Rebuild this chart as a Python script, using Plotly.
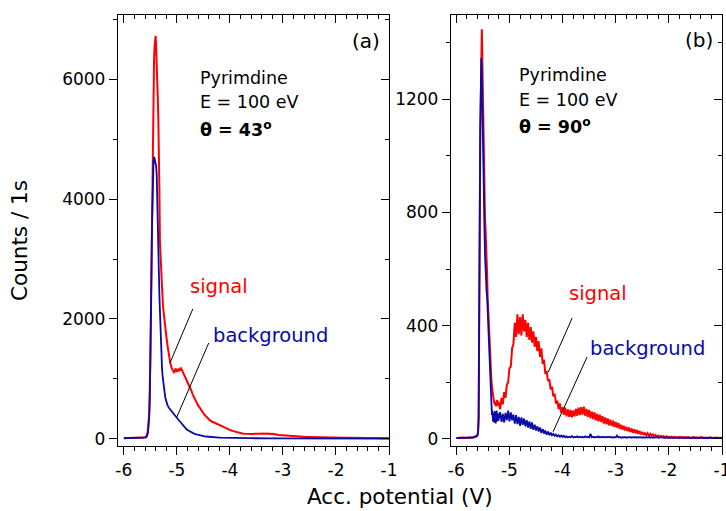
import numpy as np
import plotly.graph_objects as go

# ---------------- sampling of the accelerating potential (V) ----------------
x_base = [-6.00, -5.96, -5.92, -5.88, -5.84, -5.80, -5.76, -5.72, -5.68, -5.64]
x_peak = np.round(np.arange(-5.62, -5.205, 0.01), 2).tolist()      # -5.62 .. -5.21
x_tail = np.round(np.arange(-5.20, -0.9999, 0.025), 3).tolist()    # -5.20 .. -1.00
x_all = x_base + x_peak + x_tail

# ---------------- panel (a): theta = 43 deg ----------------
a_sig_base = [18, 20, 19, 21, 20, 22, 21, 20, 22, 21]
a_sig_peak = [20, 22, 25, 30, 40, 55, 80, 120, 200, 320,
              480, 800, 1300, 2000, 2800, 3600, 4700, 5500, 5900, 6350,
              6550, 6700, 6720, 6500, 6300, 5950, 5700, 5350, 5000, 4200,
              3300, 3050, 2900, 2700, 2500, 2350, 2200, 2100, 2000, 1900,
              1830, 1770]
a_sig_tail = [1720, 1550, 1400, 1270, 1190, 1140, 1100, 1175, 1120, 1170,
              1130, 1190, 1140, 1120, 1070, 1000, 960, 910, 860, 800,
              740, 690, 640, 600, 560, 530, 490, 460, 430, 400,
              375, 350, 330, 310, 295, 285, 275, 270, 262, 255,
              245, 235, 222, 210, 195, 180, 168, 158, 150, 142,
              135, 128, 120, 112, 105, 100, 95, 92, 88, 86,
              84, 82, 84, 80, 83, 85, 82, 86, 84, 88,
              85, 87, 90, 86, 92, 88, 91, 86, 89, 84,
              87, 80, 78, 74, 72, 68, 66, 63, 60,
              58, 57, 55, 54, 52, 50, 49, 47, 46, 44,
              43, 42, 41, 40, 38, 37, 36, 35, 35, 34,
              33, 32, 31, 31, 30, 29, 29, 28, 27, 27,
              26, 26, 25, 25, 24, 24, 23, 23, 22, 22,
              22, 21, 21, 20, 21, 20, 19, 20, 19, 19,
              18, 19, 18, 18, 17, 18, 17, 17, 16, 17,
              16, 16, 15, 16, 15, 15, 14, 15, 14, 14,
              14, 13, 14, 13, 13, 13, 12, 13, 12, 12]

a_bg_base = [12, 13, 12, 14, 13, 12, 14, 13, 12, 13]
a_bg_peak = [12, 13, 15, 18, 25, 35, 55, 90, 150, 250,
             400, 700, 1200, 1900, 2700, 3500, 4200, 4500, 4650, 4700,
             4680, 4620, 4600, 4550, 4400, 4100, 3800, 3300, 2800, 2400,
             2100, 1750, 1500, 1320, 1180, 1060, 960, 880, 810, 750,
             700, 660]
a_bg_tail = [620, 560, 520, 490, 455, 430, 400, 370, 350, 325,
             300, 270, 240, 215, 190, 170, 150, 135, 120, 108,
             100, 90, 82, 75, 68, 62, 57, 52, 48, 44,
             41, 38, 36, 34, 32, 30, 28, 27, 25, 24,
             23,
             22, 21, 21, 20, 20, 19, 19, 18, 18, 17,
             17, 16, 16, 15, 15, 15, 14, 14, 14, 13,
             13, 13, 13, 12, 12, 12, 12, 12, 11, 11,
             11, 11, 11, 11, 10, 10, 10, 10, 10, 10,
             10, 10, 9, 9, 9, 9, 9, 9, 9, 9,
             9, 9, 9, 8, 8, 8, 8, 8, 8, 8,
             8, 8, 8, 8, 8, 8, 8, 8, 7, 7,
             7, 7, 7, 7, 7, 7, 7, 7, 7, 7,
             7, 7, 7, 7, 7, 6, 6, 6, 6, 6,
             6, 6, 6, 6, 6, 6, 6, 6, 6, 6,
             6, 6, 6, 6, 6, 6, 6, 6, 5, 5,
             5, 5, 5, 5, 5, 5, 5, 5, 5, 5,
             5, 5, 5, 5, 5, 5, 5, 5]

# ---------------- panel (b): theta = 90 deg ----------------
b_sig_base = [3, 4, 3, 5, 4, 3, 5, 4, 6, 8]
b_sig_peak = [10, 12, 15, 25, 70, 260, 700, 1050, 1300, 1420,
              1447, 1330, 1200, 1080, 950, 830, 780, 740, 700, 640,
              580, 500, 450, 400, 350, 310, 270, 240, 210, 185,
              165, 150, 140, 130, 125, 120, 132, 115, 125, 138,
              118, 130]
b_sig_tail = [127, 105, 145, 122, 165, 145, 190, 200,
              250, 255, 320, 335, 410, 360, 440, 370, 430, 365,
              440, 380, 420, 360, 410, 350, 395, 340, 380, 325,
              360, 310, 345, 290, 320, 265, 280, 230, 240, 205,
              210, 175, 185, 150, 160, 125, 135, 105,
              125, 92, 112, 85, 110, 80, 104, 78, 102, 76,
              100, 80, 106, 82, 110, 84, 112, 86, 114, 82,
              106, 78, 102, 74, 96, 70, 94, 66, 88, 62,
              86, 60, 80, 54, 76, 52, 72, 48, 68, 46,
              64, 42, 60,
              40, 56, 36, 50, 33, 46, 30, 43, 27, 40,
              25, 37, 22, 34, 20, 31, 18, 28, 16, 25,
              14, 22, 13, 20, 11, 18, 10, 16, 9, 14,
              8, 12, 7, 11, 6, 10, 5, 9, 5, 8,
              5, 8, 4, 7, 5, 6, 4, 7, 5, 6,
              4, 6, 3, 6, 4, 5, 3, 6, 4, 5,
              3, 5, 4, 6, 3, 5, 4, 5, 3, 5,
              4, 5, 3, 4, 3, 5, 3, 4, 3, 4]

b_bg_base = [3, 3, 4, 3, 4, 3, 4, 5, 5, 7]
b_bg_peak = [8, 10, 14, 25, 80, 300, 750, 1100, 1300, 1344,
             1300, 1150, 1000, 880, 800, 740, 650, 570, 540, 520,
             500, 450, 410, 385, 320, 260, 208, 160, 115, 85,
             100, 62, 92, 58, 85, 98, 55, 80, 100, 62,
             90, 64]
b_bg_tail = [72, 95, 60, 88, 58, 92, 66, 100, 62, 94,
             66, 86, 54, 84, 52, 78, 46, 76, 50, 72,
             44, 66, 40, 62, 36, 58, 32, 50, 30, 45,
             26, 40, 21, 35, 19, 30, 15, 26, 13, 22,
             13, 18, 11, 15, 9, 13, 8, 12, 7, 11,
             6, 9, 5, 8, 6, 10, 5, 7, 6, 9,
             5, 8, 6, 7, 5, 9, 6, 8, 5, 18,
             6, 8, 5, 7, 6, 9, 5, 7, 6, 8,
             5, 7, 6, 8, 5, 7, 4, 7, 5, 12,
             5, 7, 4, 6, 5, 7, 4, 6, 5, 7,
             4, 6, 5, 7, 4, 6, 5, 6, 4, 6,
             4, 6, 5, 6, 4, 6, 4, 5, 4, 6,
             4, 5, 4, 6, 4, 5, 4, 5, 3, 5,
             4, 5, 3, 5, 4, 5, 3, 5, 4, 5,
             3, 5, 4, 5, 3, 4, 3, 5, 4, 5,
             3, 4, 3, 5, 3, 4, 3, 4, 3, 5,
             3, 4, 3, 4, 3, 4, 3, 4, 3]

a_signal = a_sig_base + a_sig_peak + a_sig_tail
a_background = a_bg_base + a_bg_peak + a_bg_tail
b_signal = b_sig_base + b_sig_peak + b_sig_tail
b_background = b_bg_base + b_bg_peak + b_bg_tail

for name, arr in [("a_signal", a_signal), ("a_background", a_background),
                  ("b_signal", b_signal), ("b_background", b_background)]:
    if len(arr) != len(x_all):
        raise ValueError(f"{name}: {len(arr)} vs {len(x_all)}")

# ---------------- ticks ----------------
x_ticks = [-6, -5, -4, -3, -2, -1]
x_tick_labels = ["-6", "-5", "-4", "-3", "-2", "-1"]
a_y_ticks = [0, 2000, 4000, 6000]
b_y_ticks = [0, 400, 800, 1200]

RED = "#FF0000"
BLUE = "#0A0AA8"
FONT = "DejaVu Sans, Liberation Sans, Arial, sans-serif"
W, H = 726, 511


def fx(px):
    return px / W


def fy(py):
    return 1 - py / H


fig = go.Figure()
fig.add_trace(go.Scatter(x=x_all, y=a_signal, mode="lines", line=dict(color=RED, width=2),
                         xaxis="x", yaxis="y", showlegend=False))
fig.add_trace(go.Scatter(x=x_all, y=a_background, mode="lines", line=dict(color=BLUE, width=1.8),
                         xaxis="x", yaxis="y", showlegend=False))
fig.add_trace(go.Scatter(x=x_all, y=b_signal, mode="lines", line=dict(color=RED, width=2),
                         xaxis="x2", yaxis="y2", showlegend=False))
fig.add_trace(go.Scatter(x=x_all, y=b_background, mode="lines", line=dict(color=BLUE, width=1.8),
                         xaxis="x2", yaxis="y2", showlegend=False))
# invisible carriers so the mirrored (top / right) tick axes get drawn
fig.add_trace(go.Scatter(x=[x_ticks[0]], y=[a_y_ticks[0]], mode="markers", marker=dict(opacity=0),
                         xaxis="x3", yaxis="y3", showlegend=False, hoverinfo="skip"))
fig.add_trace(go.Scatter(x=[x_ticks[0]], y=[b_y_ticks[0]], mode="markers", marker=dict(opacity=0),
                         xaxis="x4", yaxis="y4", showlegend=False, hoverinfo="skip"))

a_xrange = [-6.11, -1]
b_xrange = [-6.10, -1]
a_yrange = [-117, 7067]
b_yrange = [-25, 1497]
ydom = [fy(446), fy(15)]

common = dict(showline=True, linecolor="black", linewidth=1.4, showgrid=False,
              zeroline=False, tickcolor="black", tickwidth=1.3, automargin=False,
              ticklabeloverflow="allow",
              tickfont=dict(family=FONT, size=17, color="black"))


def xax(dom, rng, side, ticks, labels, anchor, overlay=None):
    d = dict(common, range=rng, tickmode="array", tickvals=x_ticks, ticktext=x_tick_labels,
             ticks=ticks, ticklen=8, side=side, anchor=anchor,
             minor=dict(tickmode="linear", tick0=-6, dtick=0.2, ticks=ticks, ticklen=4,
                        tickcolor="black", tickwidth=1.2),
             showticklabels=labels)
    if overlay:
        d["overlaying"] = overlay
    else:
        d["domain"] = dom
        d["mirror"] = True
    return d


def yax(rng, vals, mdt, side, ticks, labels, anchor, overlay=None):
    d = dict(common, range=rng, tickmode="array", tickvals=vals, ticktext=[str(v) for v in vals],
             ticks=ticks, ticklen=8, side=side, anchor=anchor,
             minor=dict(tickmode="linear", tick0=0, dtick=mdt, ticks=ticks, ticklen=4,
                        tickcolor="black", tickwidth=1.2),
             showticklabels=labels)
    if overlay:
        d["overlaying"] = overlay
    else:
        d["domain"] = ydom
        d["mirror"] = True
    return d


fig.update_layout(
    width=W, height=H, margin=dict(l=0, r=0, t=0, b=0),
    paper_bgcolor="white", plot_bgcolor="white",
    font=dict(family=FONT, color="black"),
    xaxis=xax([fx(118), fx(389)], a_xrange, "bottom", "outside", True, "y"),
    yaxis=yax(a_yrange, a_y_ticks, 1000, "left", "outside", True, "x"),
    xaxis2=xax([fx(451), fx(722)], b_xrange, "bottom", "outside", True, "y2"),
    yaxis2=yax(b_yrange, b_y_ticks, 200, "left", "outside", True, "x2"),
    xaxis3=xax(None, a_xrange, "top", "inside", False, "y", overlay="x"),
    yaxis3=yax(a_yrange, a_y_ticks, 1000, "right", "inside", False, "x", overlay="y"),
    xaxis4=xax(None, b_xrange, "top", "inside", False, "y2", overlay="x2"),
    yaxis4=yax(b_yrange, b_y_ticks, 200, "right", "inside", False, "x2", overlay="y2"),
)

# leader lines
leaders = [
    ("x", "y", -4.70, 2167, -5.13, 1267),
    ("x", "y", -4.40, 1600, -5.00, 367),
    ("x2", "y2", -3.82, 427, -4.27, 236),
    ("x2", "y2", -3.54, 289, -4.18, 25),
]
for xr, yr, x0, y0, x1, y1 in leaders:
    fig.add_shape(type="line", xref=xr, yref=yr, x0=x0, y0=y0, x1=x1, y1=y1,
                  line=dict(color="black", width=1))

ann = []


def txt(text, px, py, size, color="black", xanchor="left", angle=0):
    ann.append(dict(text=text, x=fx(px), y=fy(py), xref="paper", yref="paper",
                    xanchor=xanchor, yanchor="middle", showarrow=False, textangle=angle,
                    font=dict(family=FONT, size=size, color=color)))


# panel (a)
txt("(a)", 366, 41, 20, xanchor="center")
txt("Pyrimdine", 198, 78, 17.5)
txt("E = 100 eV", 198, 102, 17.5)
txt("<b>θ = 43<sup>o</sup></b>", 198, 129, 17.5)
txt("signal", 219, 286, 19.5, RED, "center")
txt("background", 270, 335, 19.5, BLUE, "center")
# panel (b)
txt("(b)", 699, 40, 20, xanchor="center")
txt("Pyrimdine", 517, 75, 17.5)
txt("E = 100 eV", 517, 100, 17.5)
txt("<b>θ = 90<sup>o</sup></b>", 517, 126, 17.5)
txt("signal", 598, 293, 19.5, RED, "center")
txt("background", 647, 348, 19.5, BLUE, "center")
# axis titles
txt("Acc. potential (V)", 400, 496, 21.5, xanchor="center")
txt("Counts / 1s", 20, 241, 21.5, xanchor="center", angle=-90)

fig.update_layout(annotations=ann)
fig.write_html("out.html", config={"displayModeBar": False},
               post_script="document.body.style.margin='0';document.body.style.padding='0';"
                           "document.body.style.overflow='hidden';")
